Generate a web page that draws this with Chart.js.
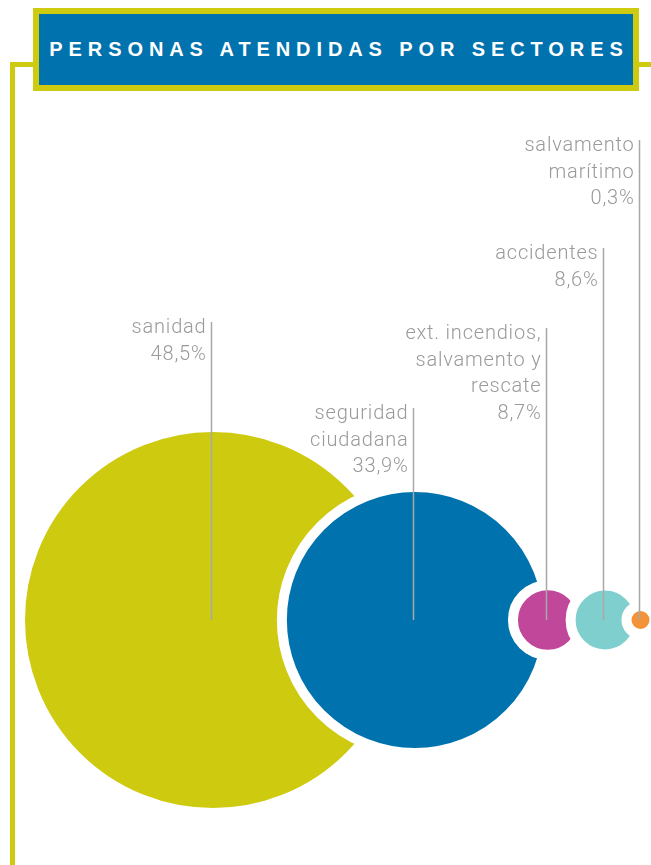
<!DOCTYPE html>
<html>
<head>
<meta charset="utf-8">
<script src="https://cdn.jsdelivr.net/npm/chart.js"></script>
<style>
  body { margin: 0; background: #fff; width: 651px; height: 865px; overflow: hidden; position: relative; }
  #myChart { position: absolute; left: 0; top: 0; }
  .rule { position: absolute; background: #cdca0f; }
  #title {
    position: absolute; left: 33px; top: 8px; width: 606px; height: 83px;
    box-sizing: border-box; border: 6px solid #cdca0f; background: #0072ae;
    color: #fff; font: bold 20px "Liberation Sans", Arial, sans-serif;
    letter-spacing: 5.9px; padding-left: 6px; text-align: center; line-height: 71px;
  }
</style>
</head>
<body>
<div class="rule" style="left:10px; top:62px; width:5px; height:803px;"></div>
<div class="rule" style="left:10px; top:62px; width:24px; height:5px;"></div>
<div class="rule" style="left:638px; top:62px; width:13px; height:5px;"></div>
<div id="title">PERSONAS ATENDIDAS POR SECTORES</div>
<canvas id="myChart" width="651" height="865"></canvas>
<script>
// data
const sectors = ["sanidad", "seguridad ciudadana", "ext. incendios, salvamento y rescate", "accidentes", "salvamento marítimo"];
const labelLines = [
  ["sanidad"],
  ["seguridad", "ciudadana"],
  ["ext. incendios,", "salvamento y", "rescate"],
  ["accidentes"],
  ["salvamento", "marítimo"]
];
const percentages = [48.5, 33.9, 8.7, 8.6, 0.3];

// look
const colors = ["#cdca0f", "#0072ae", "#c1479a", "#80cfcf", "#f39237"];
const ring = 10;                 // white ring round each bubble (half outside)
const firstLeft = 25;            // left edge of the first bubble
const overlaps = [114, 25, 2, 3]; // how much each bubble bites into the previous one
const centerY = 620;
const labelTops = [322, 408, 328, 248, 140];
const lineHeight = 26.5;

// bubble size from the percentage
function bubbleRadius(v) {
  return Math.max(9, 2.937 * Math.pow(v, 1.0714));
}

const radii = percentages.map(bubbleRadius);
const centers = [];
radii.forEach((r, i) => {
  if (i === 0) centers.push(firstLeft + r);
  else centers.push(centers[i - 1] + radii[i - 1] + r - overlaps[i - 1]);
});

const points = percentages.map((v, i) => ({ x: centers[i], y: centerY, r: radii[i] + ring / 2 }));

const labelPlugin = {
  id: "sectorLabels",
  afterDatasetsDraw(chart) {
    const ctx = chart.ctx;
    const meta = chart.getDatasetMeta(0);
    ctx.save();
    meta.data.forEach((el, i) => {
      const x = Math.round(el.x) - 1.5;
      const top = labelTops[i];
      ctx.strokeStyle = "#a8a8a8";
      ctx.lineWidth = 1.5;
      ctx.beginPath();
      ctx.moveTo(x, top);
      ctx.lineTo(x, el.y);
      ctx.stroke();

      const lines = labelLines[i].concat([percentages[i].toFixed(1).replace(".", ",") + "%"]);
      ctx.fillStyle = "#9a9a9a";
      ctx.font = "300 20px Roboto, 'Liberation Sans', sans-serif";
      ctx.letterSpacing = "0.8px";
      ctx.textAlign = "right";
      ctx.textBaseline = "middle";
      lines.forEach((t, j) => {
        ctx.fillText(t, x - 5, top + 6 + j * lineHeight);
      });
    });
    ctx.restore();
  }
};

const ctx = document.getElementById("myChart").getContext("2d");
new Chart(ctx, {
  type: "bubble",
  data: {
    labels: sectors,
    datasets: [
      {
        label: "Personas atendidas",
        data: points,
        backgroundColor: colors,
        hoverBackgroundColor: colors,
        borderColor: "#ffffff",
        hoverBorderColor: "#ffffff",
        borderWidth: ring,
        clip: false
      }
    ]
  },
  options: {
    responsive: false,
    animation: false,
    events: [],
    layout: { padding: 0, autoPadding: false },
    scales: {
      x: { type: "linear", min: 0, max: 651, display: false },
      y: { type: "linear", min: 0, max: 865, reverse: true, display: false }
    },
    plugins: {
      legend: { display: false },
      tooltip: { enabled: false }
    }
  },
  plugins: [labelPlugin]
});
</script>
</body>
</html>
